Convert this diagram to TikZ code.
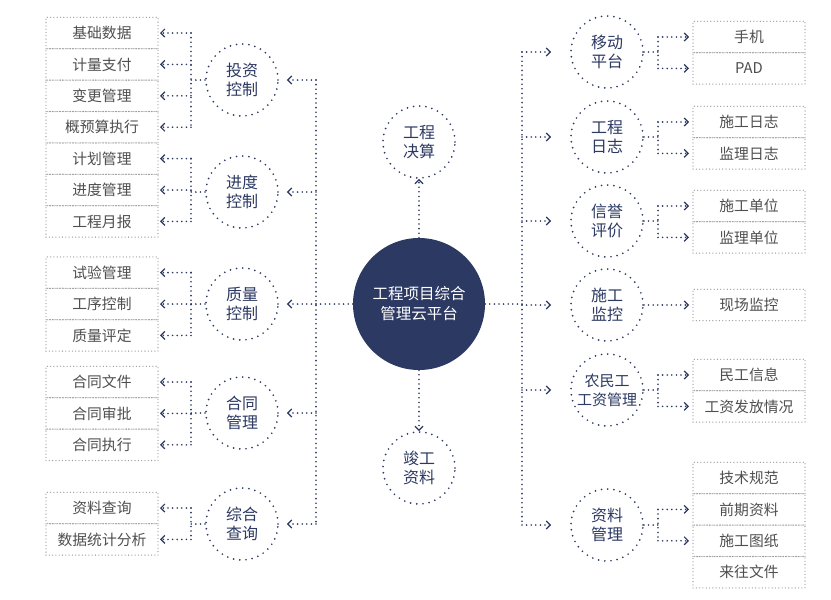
\documentclass[tikz,border=0pt]{standalone}
\usepackage{fontspec}
\setmainfont{Noto Sans CJK SC}
\usetikzlibrary{positioning,arrows.meta}
\definecolor{navy}{HTML}{2C3963}
\definecolor{boxline}{HTML}{9A9A9A}
\definecolor{boxtext}{HTML}{4F4F4F}

\begin{document}
\begin{tikzpicture}[x=1pt,y=-1pt,
  dotline/.style={line width=1.8pt,line cap=round,dash pattern=on 0pt off 4.6pt},
  hub/.style={circle,fill=navy,text=white,minimum size=132pt,align=center,font=\fontsize{15.5}{20}\selectfont},
  topic/.style={circle,draw=navy,line width=1.9pt,line cap=round,dash pattern=on 0pt off 6.2pt,minimum size=72pt,inner sep=1pt,align=center,text=navy,font=\fontsize{16}{19}\selectfont},
  item/.style={rectangle,draw=boxline,line width=1.3pt,line cap=round,dash pattern=on 0pt off 3.3pt,minimum width=112pt,minimum height=31.4pt,inner sep=1pt,outer sep=0pt,text=boxtext,font=\fontsize{14.8}{17}\selectfont},
  wire/.style={draw=navy,dotline},
  link/.style={draw=navy,dotline,-{Straight Barb[length=4pt,width=8pt,line width=1.2pt]}}]
\fill[white] (0,0) rectangle (831,600);
\useasboundingbox (0,0) rectangle (831,600);

% centre
\node[hub] (hub) at (419,304) {工程项目综合\\管理云平台};
\node[topic] (js) at (419,142) {工程\\决算};
\node[topic] (jg) at (419,468) {竣工\\资料};
\draw[link] (hub) -- (js);
\draw[link] (hub) -- (jg);

% left side
\node[topic] (tz) at (242,80) {投资\\控制};
\node[topic] (jd) at (242,192) {进度\\控制};
\node[topic] (zl) at (242,304) {质量\\控制};
\node[topic] (ht) at (242,413) {合同\\管理};
\node[topic] (zh) at (242,524) {综合\\查询};

\node[item] (tz1) at (102,33) {基础数据};
\node[item,below=0pt of tz1] (tz2) {计量支付};
\node[item,below=0pt of tz2] (tz3) {变更管理};
\node[item,below=0pt of tz3] (tz4) {概预算执行};
\node[item,below=0pt of tz4] (jd1) {计划管理};
\node[item,below=0pt of jd1] (jd2) {进度管理};
\node[item,below=0pt of jd2] (jd3) {工程月报};
\node[item] (zl1) at (102,272.6) {试验管理};
\node[item,below=0pt of zl1] (zl2) {工序控制};
\node[item,below=0pt of zl2] (zl3) {质量评定};
\node[item] (ht1) at (102,382) {合同文件};
\node[item,below=0pt of ht1] (ht2) {合同审批};
\node[item,below=0pt of ht2] (ht3) {合同执行};
\node[item] (zh1) at (102,508) {资料查询};
\node[item,below=0pt of zh1] (zh2) {数据统计分析};

\coordinate (lt) at (316,80);
\coordinate (lb) at (316,524);
\coordinate (lk) at (191,0);

\draw[wire] (hub) -- (hub -| lt) (lt) -- (lb)
  (lt) edge[link,shorten >=8pt] (tz) (lt |- jd) edge[link,shorten >=8pt] (jd)
  (lt |- zl) edge[link,shorten >=8pt] (zl) (lt |- ht) edge[link,shorten >=8pt] (ht)
  (lb) edge[link,shorten >=8pt] (zh);

\draw[wire] (tz) -- (tz -| lk) (lk |- tz1) -- (lk |- tz4)
  (lk |- tz1) edge[link,shorten >=2pt] (tz1) (lk |- tz2) edge[link,shorten >=2pt] (tz2)
  (lk |- tz3) edge[link,shorten >=2pt] (tz3) (lk |- tz4) edge[link,shorten >=2pt] (tz4);
\draw[wire] (jd) -- (jd -| lk) (lk |- jd1) -- (lk |- jd3)
  (lk |- jd1) edge[link,shorten >=2pt] (jd1) (lk |- jd2) edge[link,shorten >=2pt] (jd2)
  (lk |- jd3) edge[link,shorten >=2pt] (jd3);
\draw[wire] (zl) -- (zl -| lk) (lk |- zl1) -- (lk |- zl3)
  (lk |- zl1) edge[link,shorten >=2pt] (zl1) (lk |- zl2) edge[link,shorten >=2pt] (zl2)
  (lk |- zl3) edge[link,shorten >=2pt] (zl3);
\draw[wire] (ht) -- (ht -| lk) (lk |- ht1) -- (lk |- ht3)
  (lk |- ht1) edge[link,shorten >=2pt] (ht1) (lk |- ht2) edge[link,shorten >=2pt] (ht2)
  (lk |- ht3) edge[link,shorten >=2pt] (ht3);
\draw[wire] (zh) -- (zh -| lk) (lk |- zh1) -- (lk |- zh2)
  (lk |- zh1) edge[link,shorten >=2pt] (zh1) (lk |- zh2) edge[link,shorten >=2pt] (zh2);

% right side
\node[topic] (yd) at (607,52) {移动\\平台};
\node[topic] (rz) at (607,137) {工程\\日志};
\node[topic] (xy) at (607,221) {信誉\\评价};
\node[topic] (jk) at (607,305) {施工\\监控};
\node[topic,font=\fontsize{15}{19}\selectfont] (mg) at (607,390) {农民工\\工资管理};
\node[topic] (zg) at (607,525) {资料\\管理};

\node[item] (yd1) at (749,37) {手机};
\node[item,below=0pt of yd1] (yd2) {PAD};
\node[item] (rz1) at (749,122) {施工日志};
\node[item,below=0pt of rz1] (rz2) {监理日志};
\node[item] (xy1) at (749,206) {施工单位};
\node[item,below=0pt of xy1] (xy2) {监理单位};
\node[item] (jk1) at (749,305) {现场监控};
\node[item] (mg1) at (749,375) {民工信息};
\node[item,below=0pt of mg1] (mg2) {工资发放情况};
\node[item] (zg1) at (749,478) {技术规范};
\node[item,below=0pt of zg1] (zg2) {前期资料};
\node[item,below=0pt of zg2] (zg3) {施工图纸};
\node[item,below=0pt of zg3] (zg4) {来往文件};

\coordinate (rt) at (522,52);
\coordinate (rb) at (522,525);
\coordinate (rk) at (658,0);

\draw[wire] (hub) -- (hub -| rt) (rt) -- (rb)
  (rt) edge[link,shorten >=19pt] (yd) (rt |- rz) edge[link,shorten >=19pt] (rz)
  (rt |- xy) edge[link,shorten >=19pt] (xy) (rt |- jk) edge[link,shorten >=19pt] (jk)
  (rt |- mg) edge[link,shorten >=19pt] (mg) (rb) edge[link,shorten >=19pt] (zg);

\draw[wire] (yd) -- (yd -| rk) (rk |- yd1) -- (rk |- yd2)
  (rk |- yd1) edge[link,shorten >=4pt] (yd1) (rk |- yd2) edge[link,shorten >=4pt] (yd2);
\draw[wire] (rz) -- (rz -| rk) (rk |- rz1) -- (rk |- rz2)
  (rk |- rz1) edge[link,shorten >=4pt] (rz1) (rk |- rz2) edge[link,shorten >=4pt] (rz2);
\draw[wire] (xy) -- (xy -| rk) (rk |- xy1) -- (rk |- xy2)
  (rk |- xy1) edge[link,shorten >=4pt] (xy1) (rk |- xy2) edge[link,shorten >=4pt] (xy2);
\draw[link,shorten >=4pt] (jk) -- (jk1);
\draw[wire] (mg) -- (mg -| rk) (rk |- mg1) -- (rk |- mg2)
  (rk |- mg1) edge[link,shorten >=4pt] (mg1) (rk |- mg2) edge[link,shorten >=4pt] (mg2);
\draw[wire] (zg) -- (zg -| rk) (rk |- zg2) -- (rk |- zg3)
  (rk |- zg2) edge[link,shorten >=4pt] (zg2) (rk |- zg3) edge[link,shorten >=4pt] (zg3);
\end{tikzpicture}
\end{document}
